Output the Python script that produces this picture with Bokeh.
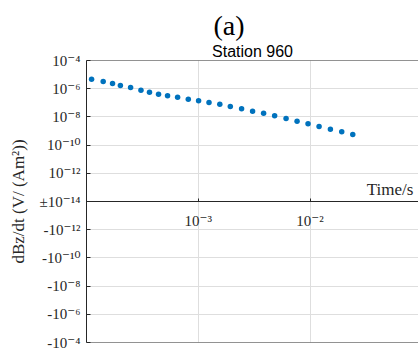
import numpy as np
from bokeh.plotting import figure
from bokeh.models import LinearAxis, LogAxis, FixedTicker, Span, Label, Title
from bokeh.embed import file_html
from bokeh.resources import INLINE

# ---- data ----
time_s = [1.11e-4, 1.41e-4, 1.71e-4, 2.01e-4, 2.48e-4, 3.07e-4, 3.66e-4, 4.41e-4,
          5.31e-4, 6.53e-4, 8.14e-4, 1.006e-3, 1.247e-3, 1.558e-3, 1.934e-3, 2.44e-3,
          3.06e-3, 3.84e-3, 4.82e-3, 6.10e-3, 7.65e-3, 9.59e-3, 1.204e-2, 1.520e-2,
          1.92e-2, 2.41e-2]
dbzdt = [4.72e-6, 3.24e-6, 2.34e-6, 1.69e-6, 1.22e-6, 7.83e-7, 5.65e-7, 4.07e-7,
         3.13e-7, 2.49e-7, 1.80e-7, 1.39e-7, 1.05e-7, 7.83e-8, 5.47e-8, 3.75e-8,
         2.54e-8, 1.83e-8, 1.20e-8, 7.71e-9, 4.96e-9, 3.24e-9, 2.09e-9, 1.34e-9,
         8.77e-10, 5.65e-10]
floor_exp = -14  # symmetric-log floor: |value| <= 1e-14 maps to 0

y_tick_pos = [-10, -8, -6, -4, -2, 0, 2, 4, 6, 8, 10]
y_tick_labels = ["-10⁻⁴", "-10⁻⁶", "-10⁻⁸", "-10⁻¹⁰", "-10⁻¹²", "±10⁻¹⁴",
                 "10⁻¹²", "10⁻¹⁰", "10⁻⁸", "10⁻⁶", "10⁻⁴"]
x_ticks = [1e-3, 1e-2]
x_tick_labels = ["10⁻³", "10⁻²"]

title_text = "(a)"
subtitle_text = "Station 960"
x_label = "Time/s"
y_label = "dBz/dt (V/ (Am²))"


def symlog(v):
    v = np.asarray(v, dtype=float)
    mag = np.log10(np.maximum(np.abs(v), 10.0 ** floor_exp)) - floor_exp
    return np.sign(v) * mag


AX = "#262626"
SERIF = "'Liberation Serif', 'DejaVu Serif'"
SANS = "Liberation Sans"

p = figure(width=418, height=352, x_axis_type="log",
           x_range=(1e-4, 10 ** -1.03), y_range=(-10, 10),
           x_axis_location=None, y_axis_location=None,
           output_backend="svg", toolbar_location=None,
           min_border_left=86, min_border_right=0, min_border_top=60, min_border_bottom=10,
           outline_line_color=None, background_fill_color="white", border_fill_color="white")

p.xgrid.ticker = FixedTicker(ticks=x_ticks)
p.ygrid.ticker = FixedTicker(ticks=y_tick_pos)
for g in (p.xgrid, p.ygrid):
    g.grid_line_color = "#dedede"
    g.grid_line_width = 1

yaxis = LinearAxis(ticker=FixedTicker(ticks=y_tick_pos),
                   major_label_overrides=dict(zip(y_tick_pos, y_tick_labels)),
                   axis_label=y_label,
                   major_tick_in=4, major_tick_out=0,
                   minor_tick_line_color=None,
                   axis_line_color=AX, major_tick_line_color=AX,
                   major_label_text_font=SERIF, major_label_text_font_size="15px",
                   major_label_text_color=AX, major_label_standoff=6,
                   axis_label_text_font=SERIF, axis_label_text_font_size="17px",
                   axis_label_text_font_style="normal", axis_label_text_color=AX,
                   axis_label_standoff=9)
p.add_layout(yaxis, "left")

xaxis = LogAxis(ticker=FixedTicker(ticks=x_ticks),
                major_label_overrides=dict(zip(x_ticks, x_tick_labels)),
                fixed_location=0,
                major_tick_in=3, major_tick_out=0,
                minor_tick_line_color=None,
                axis_line_color=AX, major_tick_line_color=AX,
                major_label_text_font=SERIF, major_label_text_font_size="15px",
                major_label_text_color=AX, major_label_standoff=11)
p.add_layout(xaxis, "below")

for loc in (10, -10):
    p.add_layout(Span(location=loc, dimension="width", line_color=AX, line_width=1))

p.scatter(time_s, symlog(dbzdt), size=5.5, color="#0072BD", line_color=None)


def dx(px):
    return 10 ** (-4 + (px - 86.3) / 111.7)


def dy(py):
    return 10 - (py - 60) / 14.1


p.add_layout(Label(x=dx(413), y=dy(188.5), text=x_label, text_font=SERIF,
                   text_font_size="17px", text_color=AX, text_align="right",
                   text_baseline="alphabetic"))

p.add_layout(Title(text=subtitle_text, align="center", text_font=SANS,
                   text_font_size="16px", text_font_style="normal",
                   text_color="black", standoff=2), "above")
p.add_layout(Title(text=title_text, align="left", offset=127, text_font=SERIF,
                   text_font_size="28px", text_font_style="normal",
                   text_color="black", standoff=-3), "above")

open("out.html", "w").write(file_html(p, INLINE))
